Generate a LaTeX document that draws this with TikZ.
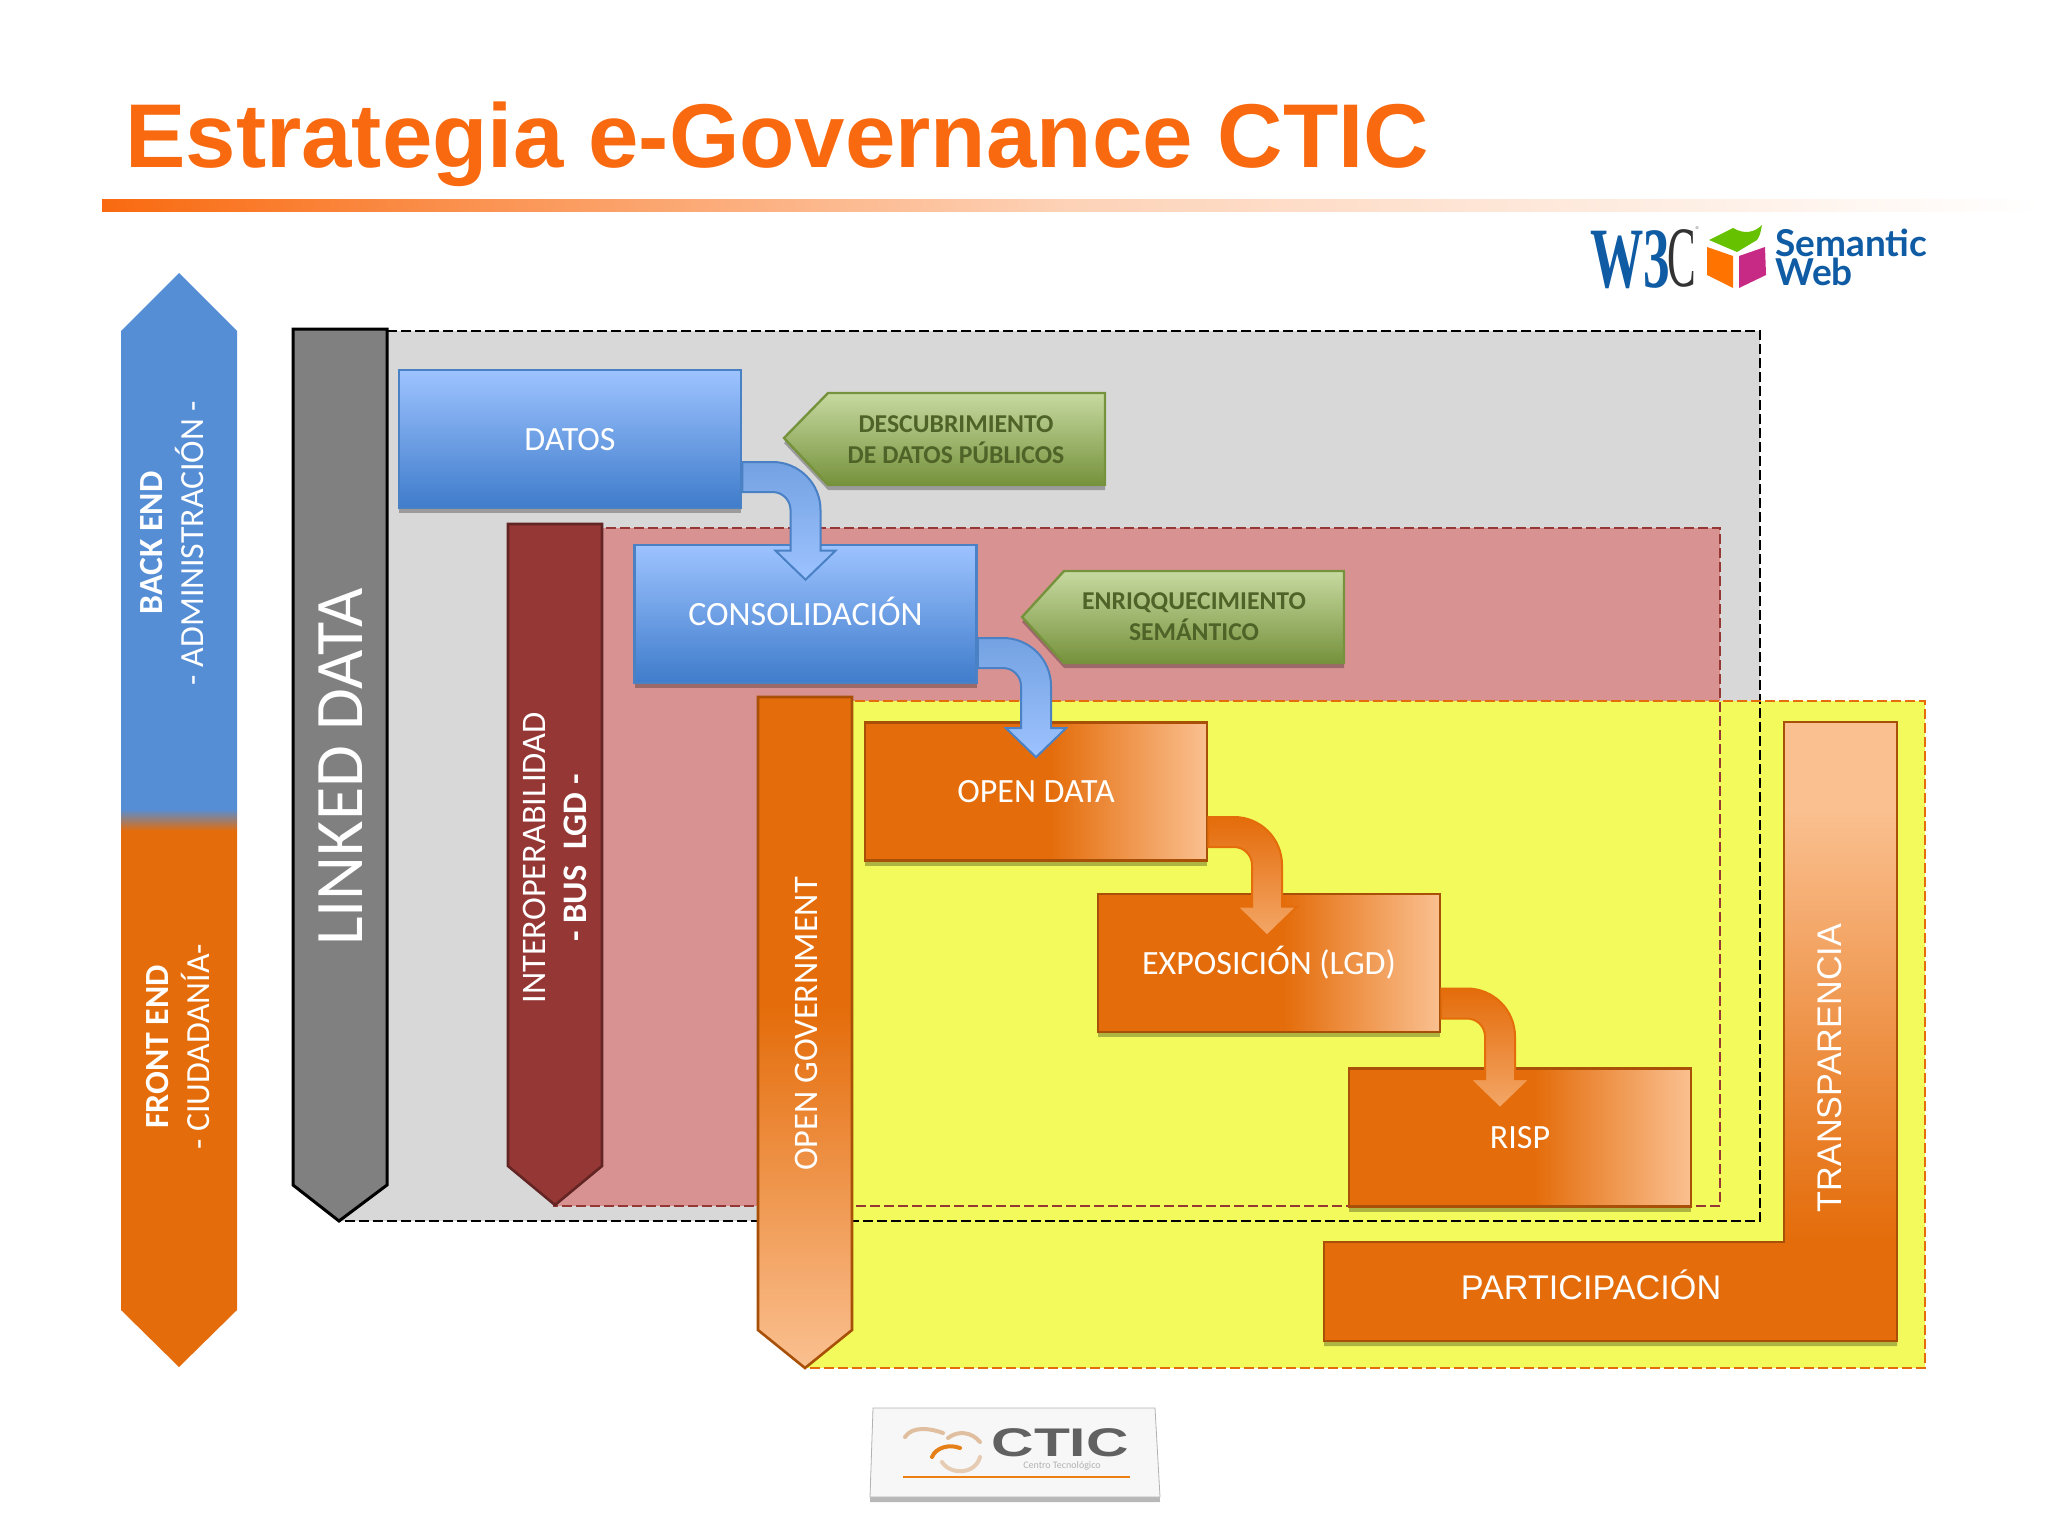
\documentclass[tikz,border=0pt]{standalone}
\usepackage{fontspec}
\setmainfont{Carlito}
\newfontfamily\arialfont{Liberation Sans}
\newfontfamily\timesfont{Liberation Serif}
\newfontfamily\latofont{Lato}
\usetikzlibrary{calc,shadows,positioning}

\definecolor{ctictitle}{HTML}{F96A10}
\definecolor{orangeA}{HTML}{E46C0A}
\definecolor{orangeB}{HTML}{FAC090}
\definecolor{orangeline}{HTML}{A84F08}
\definecolor{blueA}{HTML}{9DC3FF}
\definecolor{blueB}{HTML}{3F7CCB}
\definecolor{blueline}{HTML}{4A80C4}
\definecolor{blueside}{HTML}{558ED5}
\definecolor{greenA}{HTML}{C6D9A0}
\definecolor{greenB}{HTML}{76923C}
\definecolor{greentext}{HTML}{4F6228}
\definecolor{redA}{HTML}{953735}
\definecolor{redB}{HTML}{632523}
\definecolor{redzone}{HTML}{D99292}
\definecolor{grayzone}{HTML}{D8D8D9}
\definecolor{yellowzone}{HTML}{F2FA5C}
\definecolor{w3blue}{HTML}{0F5CA5}
\colorlet{ruleA}{ctictitle}
\colorlet{ruleB}{ctictitle!30!white}
\colorlet{transmid}{orangeA!65!orangeB}

\pgfdeclareverticalshading{sideshade}{100bp}{color(0bp)=(orangeA); color(49.5bp)=(orangeA); color(50.5bp)=(blueside); color(100bp)=(blueside)}
\pgfdeclarehorizontalshading{boxshade}{100bp}{color(0bp)=(orangeA); color(52bp)=(orangeA); color(75bp)=(orangeB); color(100bp)=(orangeB)}
\pgfdeclareverticalshading{govshade}{100bp}{color(0bp)=(orangeB); color(25bp)=(orangeB); color(52bp)=(orangeA); color(100bp)=(orangeA)}
\pgfdeclareverticalshading{transshade}{100bp}{color(0bp)=(orangeA); color(33bp)=(orangeA); color(46bp)=(transmid); color(68bp)=(orangeB); color(100bp)=(orangeB)}
\pgfdeclarehorizontalshading{ruleshade}{100bp}{color(0bp)=(ruleA); color(25bp)=(ruleA); color(50bp)=(ruleB); color(75bp)=(white); color(100bp)=(white)}

\tikzset{
  softshadow/.style={drop shadow={shadow xshift=0pt,shadow yshift=-2.5pt,opacity=.28,fill=black}},
  zoneline/.style={dash pattern=on 5pt off 2pt,line width=1.3pt},
  stepbox/.style={minimum width=171pt,minimum height=69pt,inner sep=0pt,line width=1.3pt,softshadow,text=white,text height=11pt,text depth=0pt,font=\fontsize{17}{20}\selectfont},
  stepblue/.style={stepbox,draw=blueline,top color=blueA,bottom color=blueB},
  steporange/.style={stepbox,draw=orangeline,shading=boxshade},
  tagshape/.style={draw=greenB,line width=1.2pt,top color=greenA,bottom color=greenB,softshadow},
  tagtext/.style={align=center,text=greentext,font=\fontsize{12.85}{15.5}\selectfont\bfseries},
  sidetext/.style={rotate=90,align=center,text=white,font=\fontsize{16.9}{20.5}\selectfont},
  bandtext/.style={rotate=90,align=center,text=white,font=\fontsize{17.2}{20.5}\selectfont},
  swirl/.style={line width=2pt,color=#1,line cap=round},
}

% shaft from #2, tip at #3
\newcommand{\bentarrow}[3]{
  \draw[#1] let \p1=(#2), \p2=(#3) in
    (\x1,\y1+7.5pt) -- (\x2-16.5pt,\y1+7.5pt)
    arc[start angle=90,end angle=0,radius=24pt]
    -- (\x2+7.5pt,\y2+14.5pt) -- (\x2+15pt,\y2+14.5pt) -- (\x2,\y2)
    -- (\x2-15pt,\y2+14.5pt) -- (\x2-7.5pt,\y2+14.5pt)
    -- (\x2-7.5pt,\y1-16.5pt)
    arc[start angle=0,end angle=90,radius=9pt]
    -- (\x1,\y1-7.5pt) -- cycle;
}

\begin{document}
\begin{tikzpicture}[x=0.5pt,y=-0.5pt]
  \useasboundingbox (0,0) rectangle (2048,1536);

  % title
  \node[anchor=base west,inner sep=0pt,text=ctictitle,font=\fontsize{45.3}{50}\selectfont\arialfont\bfseries] (title) at (125,167) {Estrategia e-Governance CTIC};
  \fill[shading=ruleshade] (102,199) rectangle (2040,211);

  % w3c logo
  \node[anchor=base west,inner sep=0pt,xscale=.62,text=w3blue,font=\fontsize{43}{43}\selectfont\timesfont\bfseries] (wthree) at (1590,287) {W3};
  \node[anchor=base west,inner sep=0pt,xscale=.5,text=black!80,font=\fontsize{43}{43}\selectfont\timesfont] (wc) at (1667,286) {C};
  \node[inner sep=0pt,text=black!50,font=\fontsize{5}{5}\selectfont] (wreg) at (1698,230) {®};
  \fill[orange!90!red] (1707,247) -- (1733,256) -- (1733,288) -- (1707,275) -- cycle;
  \fill[magenta!80!black] (1739,256) -- (1765,247) -- (1766,275) -- (1739,288) -- cycle;
  \fill[green!60!black!60!yellow] (1709,240) -- (1733,228) .. controls (1745,235) and (1755,232) .. (1762,225) .. controls (1760,235) .. (1757,240) -- (1737,252) -- cycle;
  \node[anchor=base west,inner sep=0pt,text=w3blue,align=left,font=\fontsize{18.5}{14.5}\selectfont\latofont\bfseries] (semweb) at (1775,285) {Semantic\\Web};

  % zones
  \fill[grayzone] (339,331) rectangle (1760,1221);
  \fill[redzone] (554,528) rectangle (1720,1206);
  \fill[yellowzone] (805,701) rectangle (1925,1368);
  \draw[zoneline,black] (339,331) rectangle (1760,1221);
  \draw[zoneline,redA] (554,528) rectangle (1720,1206);
  \draw[zoneline,orangeA] (805,701) rectangle (1925,1368);

  % side bands
  \path[shading=sideshade] (179,273) -- (237,331) -- (237,1310) -- (179,1367) -- (121,1310) -- (121,331) -- cycle;
  \node[sidetext] (backend) at (172,543) {\textbf{BACK END}\\- ADMINISTRACIÓN -};
  \node[sidetext] (frontend) at (178,1047) {\textbf{FRONT END}\\- CIUDADANÍA-};

  \draw[draw=black,line width=1.5pt,fill=black!50] (293,329) -- (387,329) -- (387,1185) -- (339,1221) -- (293,1185) -- cycle;
  \node[rotate=90,text=white,font=\fontsize{34}{36}\selectfont] (linked) at (341,767) {LINKED DATA};

  \draw[draw=redB,line width=1.3pt,fill=redA] (508,524) -- (602,524) -- (602,1166) -- (555,1205) -- (508,1166) -- cycle;
  \node[bandtext] (interop) at (555,858) {INTEROPERABILIDAD\\\textbf{- BUS\ \ LGD -}};

  \draw[draw=orangeline,line width=1.3pt,shading=govshade] (758,697) -- (852,697) -- (852,1330) -- (805,1368) -- (758,1330) -- cycle;
  \node[bandtext] (opengov) at (806,1024) {OPEN GOVERNMENT};

  \draw[draw=orangeline,line width=1.3pt,shading=transshade,softshadow] (1784,722) -- (1897,722) -- (1897,1341) -- (1324,1341) -- (1324,1242) -- (1784,1242) -- cycle;
  \node[rotate=90,text=white,font=\fontsize{17.1}{20}\selectfont\arialfont] (transp) at (1830,1068) {TRANSPARENCIA};
  \node[text=white,font=\fontsize{17.1}{20}\selectfont\arialfont] (partic) at (1591,1285) {PARTICIPACIÓN};

  % steps
  \node[stepblue] (datos) at (570,439) {DATOS};
  \node[stepblue] (consol) at (805.5,614) {CONSOLIDACIÓN};
  \node[steporange] (opendata) at (1036,791.5) {OPEN DATA};
  \node[steporange] (expos) at (1269,963) {EXPOSICIÓN (LGD)};
  \node[steporange] (risp) at (1520,1137.5) {RISP};

  \bentarrow{draw=blueline,line width=1pt,top color=blueline!50!blueA,bottom color=blueA}{$(datos.east)+(0,38)$}{$(consol.north)+(0,36)$}
  \bentarrow{draw=blueline,line width=1pt,top color=blueline!50!blueA,bottom color=blueA}{$(consol.east)+(0,39)$}{$(opendata.north)+(0,36)$}
  \bentarrow{draw=orangeA,line width=1pt,top color=orangeA,bottom color=orangeB!70!orangeA}{$(opendata.east)+(0,40.5)$}{$(expos.north)+(-2,43)$}
  \bentarrow{draw=orangeA,line width=1pt,top color=orangeA,bottom color=orangeB!70!orangeA}{$(expos.east)+(0,40.5)$}{$(risp.north)+(-20,41)$}

  % green tags
  \draw[tagshape] (784,438) -- (828,393) -- (1105,393) -- (1105,485) -- (828,485) -- cycle;
  \node[tagtext] (descub) at (956,440) {DESCUBRIMIENTO\\DE DATOS PÚBLICOS};
  \draw[tagshape] (1022,617) -- (1064,571) -- (1344,571) -- (1344,663) -- (1064,663) -- cycle;
  \node[tagtext] (enriq) at (1194,617) {ENRIQQUECIMIENTO\\SEMÁNTICO};

  % ctic logo
  \draw[draw=black!30,fill=black!3,softshadow] (873,1408) -- (1155,1408) -- (1160,1497) -- (870,1497) -- cycle;
  \node[anchor=base west,inner sep=0pt,xscale=1.47,text=black!62,font=\fontsize{20}{20}\selectfont\arialfont\bfseries] (ctic) at (991,1456) {CTIC};
  \node[inner sep=0pt,text=black!30,font=\fontsize{5}{5}\selectfont] (centro) at (1062,1466) {Centro Tecnológico};
  \draw[line width=1.3pt,orange!70!brown] (903,1477) -- (1130,1477);
  \draw[swirl=brown!50] (905,1437) .. controls (912,1426) and (930,1428) .. (943,1433);
  \draw[swirl=brown!50] (948,1438) .. controls (958,1430) and (972,1432) .. (980,1442);
  \draw[swirl=orange!60!brown] (932,1457) .. controls (936,1447) and (950,1444) .. (960,1448);
  \draw[swirl=brown!40] (942,1462) .. controls (950,1475) and (975,1475) .. (980,1457);
\end{tikzpicture}
\end{document}
